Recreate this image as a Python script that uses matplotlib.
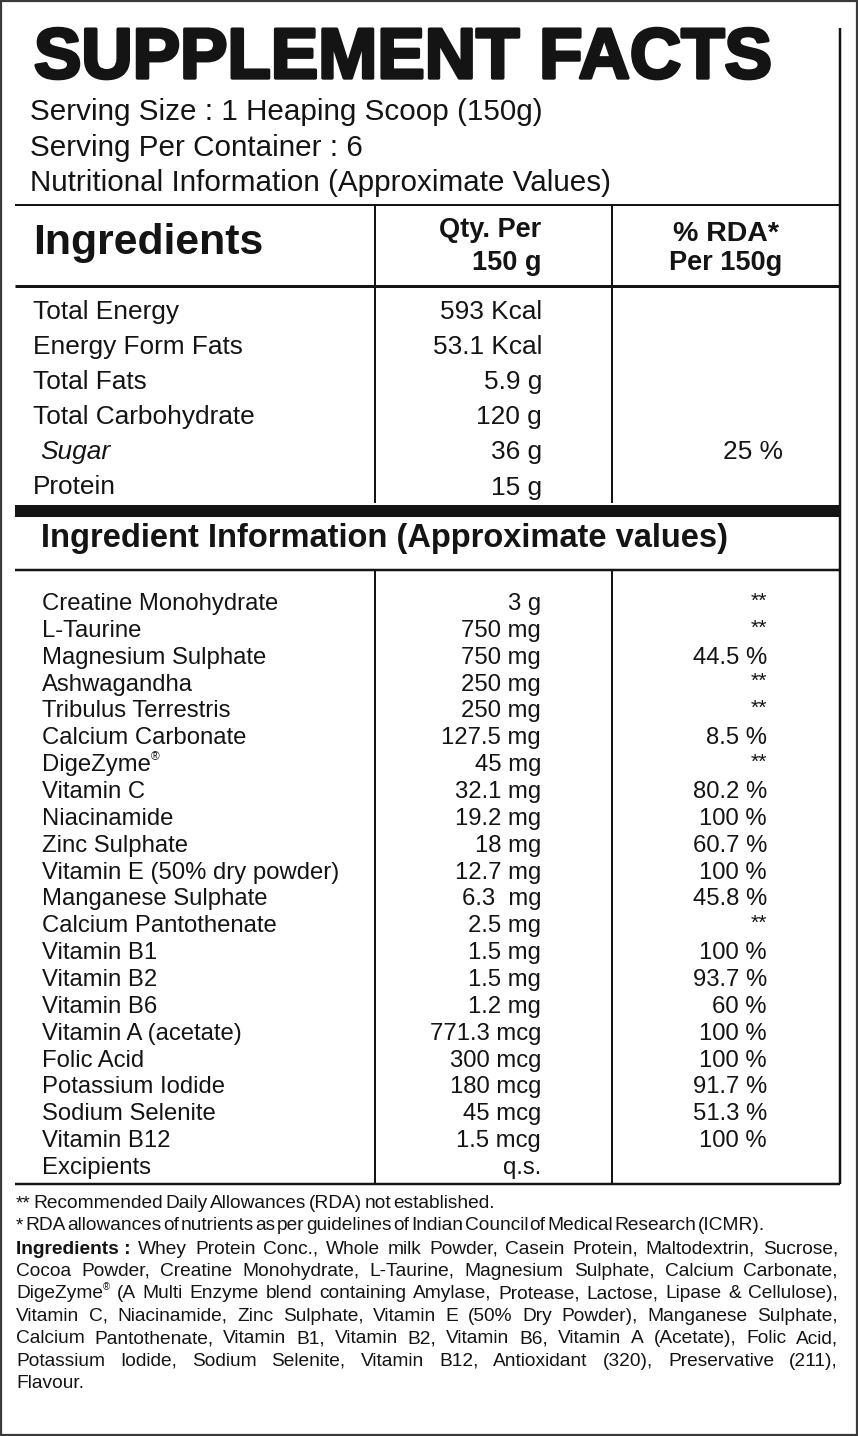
import matplotlib
matplotlib.use("Agg")
import matplotlib.pyplot as plt
from matplotlib import patheffects

W, H = 858, 1436
INK = "#141414"
FAM = ["Liberation Sans", "DejaVu Sans"]

# --- contenu de l'étiquette ---
title = "SUPPLEMENT FACTS"
serving_lines = [
    "Serving Size : 1 Heaping Scoop (150g)",
    "Serving Per Container : 6",
    "Nutritional Information (Approximate Values)",
]
col_head = ["Ingredients", "Qty. Per", "150 g", "% RDA*", "Per 150g"]

nutrients = ["Total Energy", "Energy Form Fats", "Total Fats",
             "Total Carbohydrate", "Sugar", "Protein"]
nutrient_qty = ["593 Kcal", "53.1 Kcal", "5.9 g", "120 g", "36 g", "15 g"]
nutrient_rda = ["", "", "", "", "25 %", ""]

info_title = "Ingredient Information (Approximate values)"
ingredients = [
    "Creatine Monohydrate", "L-Taurine", "Magnesium Sulphate", "Ashwagandha",
    "Tribulus Terrestris", "Calcium Carbonate", "DigeZyme®", "Vitamin C",
    "Niacinamide", "Zinc Sulphate", "Vitamin E (50% dry powder)",
    "Manganese Sulphate", "Calcium Pantothenate", "Vitamin B1", "Vitamin B2",
    "Vitamin B6", "Vitamin A (acetate)", "Folic Acid", "Potassium Iodide",
    "Sodium Selenite", "Vitamin B12", "Excipients",
]
ingredient_qty = [
    "3 g", "750 mg", "750 mg", "250 mg", "250 mg", "127.5 mg", "45 mg",
    "32.1 mg", "19.2 mg", "18 mg", "12.7 mg", "6.3  mg", "2.5 mg", "1.5 mg",
    "1.5 mg", "1.2 mg", "771.3 mcg", "300 mcg", "180 mcg", "45 mcg",
    "1.5 mcg", "q.s.",
]
ingredient_rda = [
    "**", "**", "44.5 %", "**", "**", "8.5 %", "**", "80.2 %", "100 %",
    "60.7 %", "100 %", "45.8 %", "**", "100 %", "93.7 %", "60 %", "100 %",
    "100 %", "91.7 %", "51.3 %", "100 %", "",
]

footnotes = [
    "** Recommended Daily Allowances (RDA) not established.",
    "* RDA allowances of nutrients as per guidelines of Indian Council of Medical Research (ICMR).",
]
para_head = "Ingredients :"
para_lines = [
    "Whey Protein Conc., Whole milk Powder, Casein Protein, Maltodextrin, Sucrose,",
    "Cocoa Powder, Creatine Monohydrate, L-Taurine, Magnesium Sulphate, Calcium Carbonate,",
    "DigeZyme® (A Multi Enzyme blend containing Amylase, Protease, Lactose, Lipase & Cellulose),",
    "Vitamin C, Niacinamide, Zinc Sulphate, Vitamin E (50% Dry Powder), Manganese Sulphate,",
    "Calcium Pantothenate, Vitamin B1, Vitamin B2, Vitamin B6, Vitamin A (Acetate), Folic Acid,",
    "Potassium Iodide, Sodium Selenite, Vitamin B12, Antioxidant (320), Preservative (211),",
    "Flavour.",
]

# --- figure en pixels ---
fig = plt.figure(figsize=(W / 100, H / 100), dpi=100)
ax = fig.add_axes([0, 0, 1, 1])
ax.set_xlim(0, W)
ax.set_ylim(H, 0)
ax.axis("off")
renderer = fig.canvas.get_renderer()


def put(x, y, s, size, ha="left", **kw):
    return ax.text(x, y, s, fontsize=size, ha=ha, va="center",
                   family=FAM, color=INK, **kw)


def wid(t):
    return t.get_window_extent(renderer=renderer).width


def measure(s, size=20, **kw):
    t = put(W / 2, H / 2, s, size, **kw)
    w = wid(t)
    t.remove()
    return w


def fit_size(s, width, **kw):
    return 20 * width / measure(s, 20, **kw)


def put_reg(x, y, s, size, ha="left", **kw):
    # texte avec ® en exposant
    if "®" not in s:
        return put(x, y, s, size, ha=ha, **kw)
    base = s.replace("®", "")
    t = put(x, y, base, size, ha="left", **kw)
    r = put(x, y - size * 0.45, "®", size * 0.5, ha="left", **kw)
    r.set_x(x + wid(t))
    return t


def hline(y, x0=15, x1=840, lw=2.0):
    ax.plot([x0, x1], [y, y], color=INK, lw=lw * 0.72, solid_capstyle="butt")


def vline(x, y0, y1, lw=2.0):
    ax.plot([x, x], [y0, y1], color=INK, lw=lw * 0.72, solid_capstyle="butt")


# cadre extérieur
ax.add_patch(plt.Rectangle((1, 1), W - 2, H - 2, fill=False,
                           edgecolor="#3a3a3a", lw=1.6))

# titre
ts = fit_size(title, 738, weight="bold")
put(34, 60, title, ts, weight="bold",
    path_effects=[patheffects.withStroke(linewidth=2.4, foreground=INK)])

ss = fit_size(serving_lines[0], 511)
for i, s in enumerate(serving_lines):
    put(30, 112 + i * 35.5, s, ss)

# tableau du haut
hline(205, lw=2.0)
hline(286, lw=3.0)
vline(375, 205, 503)
vline(612, 205, 503)
vline(840, 28, 1184, lw=2.5)

hs = fit_size(col_head[0], 230, weight="bold")
put(33, 243, col_head[0], hs, weight="bold")
qs = fit_size(col_head[1], 102, weight="bold")
put(541, 230, col_head[1], qs, ha="right", weight="bold")
put(541, 263, col_head[2], qs, ha="right", weight="bold")
put(726, 234, col_head[3], qs * 1.05, ha="center", weight="bold")
put(726, 263, col_head[4], qs, ha="center", weight="bold")

rs = fit_size("Total Carbohydrate", 221)
for i, (n, q, r) in enumerate(zip(nutrients, nutrient_qty, nutrient_rda)):
    y = 312 + i * 35.1
    if n == "Sugar":
        put(40, y, n, rs, style="italic")
    else:
        put(33, y, n, rs)
    put(542, y, q, rs, ha="right")
    if r:
        put(753, y, r, rs, ha="center")

# barre épaisse
ax.add_patch(plt.Rectangle((15, 505), 825, 12, color=INK, lw=0))

# tableau des ingrédients
its = fit_size(info_title, 687, weight="bold")
put(41, 539, info_title, its, weight="bold")
hline(570, lw=2.5)
vline(375, 570, 1184)
vline(612, 570, 1184)
hline(1184, lw=2.5)

gs = fit_size("Creatine Monohydrate", 235)
for i, (n, q, r) in enumerate(zip(ingredients, ingredient_qty, ingredient_rda)):
    y = 604 + i * 26.86
    put_reg(42, y, n, gs)
    put(541, y, q, gs, ha="right")
    if r == "**":
        put(767, y - 3, r, gs * 0.9, ha="right")
    elif r:
        put(767, y, r, gs, ha="right")


# --- notes de bas de page ---
def place_words(y, line, x0, x1, size, head=None, mode="justify", tight=0.3):
    pieces = []
    if head:
        pieces.append([put(x0, y, head, size, weight="bold")])
    for word in line.split():
        if "®" in word:
            base, rest = word.split("®", 1)
            grp = [put(x0, y, base, size),
                   put(x0, y - size * 0.45, "®", size * 0.5)]
            if rest:
                grp.append(put(x0, y, rest, size))
            pieces.append(grp)
        else:
            pieces.append([put(x0, y, word, size)])
    widths = [sum(wid(t) for t in g) for g in pieces]
    sp = measure("a a", size) - measure("aa", size)
    if mode == "justify" and len(pieces) > 1:
        gap = (x1 - x0 - sum(widths)) / (len(pieces) - 1)
    elif mode == "tight":
        gap = sp * tight
    else:
        gap = sp
    x = x0
    for g, w in zip(pieces, widths):
        xx = x
        for t in g:
            t.set_x(xx)
            xx += wid(t)
        x += w + gap


# taille choisie pour que la ligne la plus longue remplisse la largeur
natural = [measure(l, 20) for l in para_lines[1:-1]]
natural.append(measure(para_head + " " + para_lines[0], 20))
fs = 20 * 812 / max(natural)

place_words(1204, footnotes[0], 16, 838, fs, mode="tight", tight=0.45)
place_words(1226, footnotes[1], 16, 838, fs, mode="tight", tight=0.3)

for i, line in enumerate(para_lines):
    y = 1249 + i * 22.4
    last = i == len(para_lines) - 1
    place_words(y, line, 16, 838, fs,
                head=para_head if i == 0 else None,
                mode="normal" if last else "justify")

fig.savefig("out.png", dpi=100)
